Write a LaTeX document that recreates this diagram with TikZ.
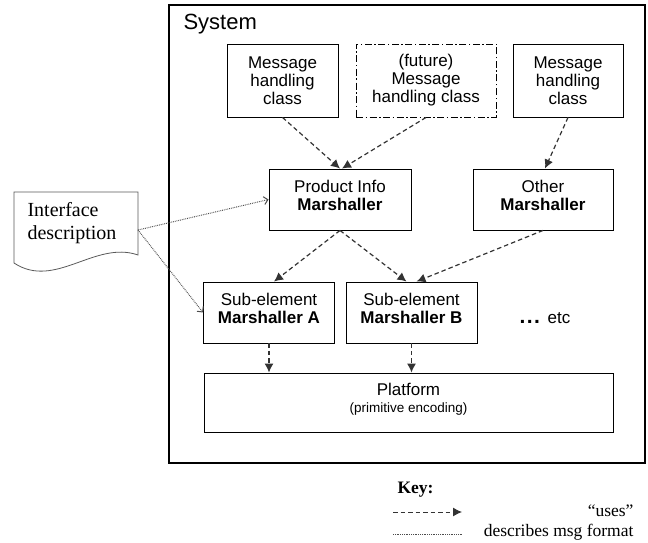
\documentclass[tikz,border=0pt]{standalone}
\usepackage{fontspec}
\setmainfont{Liberation Serif}
\setsansfont{Liberation Sans}
\usepackage{tikz}
\usetikzlibrary{arrows.meta}
\usetikzlibrary{positioning}

\tikzset{
  box/.style={draw, line width=0.9pt, align=center, inner sep=0pt,
    font=\sffamily\fontsize{17}{18}\selectfont},
  twoline/.style={text height=32.5pt, text depth=10.5pt},
  futurebox/.style={box, dash pattern=on 7pt off 2.5pt on 1.5pt off 2.5pt},
  uses/.style={draw=black!80, line width=1.2pt, dash pattern=on 4.5pt off 3pt,
    -{Latex[length=9pt,width=9pt]}},
  dotline/.style={draw=black!70, line width=1pt, dash pattern=on 0.8pt off 1pt},
  describes/.style={dotline, -{Straight Barb[length=4pt,width=8pt]}},
  keytext/.style={font=\fontsize{17.5}{20}\selectfont}
}

\begin{document}
\begin{tikzpicture}[x=1pt,y=-1pt]
    \useasboundingbox (0,0) rectangle (648,543);
    \node[draw, line width=1.8pt, minimum width=476pt, minimum height=458pt] (sys) at (407,234) {};
    \node[anchor=west, font=\sffamily\fontsize{22}{24}\selectfont] (systitle) at (180,24) {System};

    \node[box, minimum width=111pt, minimum height=73pt] (msgA) at (282.5,80.5) {Message\\handling\\class};
    \node[futurebox, minimum width=140pt, minimum height=73pt] (msgF) at (426,80.5) {(future)\\Message\\handling class};
    \node[box, minimum width=110pt, minimum height=73pt] (msgB) at (568,80.5) {Message\\handling\\class};

    \node[box, twoline, minimum width=142pt, minimum height=61pt] (pinfo) at (340,199.5) {Product Info\\\textbf{Marshaller}};
    \node[box, twoline, minimum width=140pt, minimum height=61pt] (other) at (543,199.5) {Other\\\textbf{Marshaller}};

    \node[box, twoline, minimum width=131pt, minimum height=61pt] (subA) at (269,312.5) {Sub-element\\\textbf{Marshaller A}};
    \node[box, twoline, minimum width=131pt, minimum height=61pt] (subB) at (411.5,312.5) {Sub-element\\\textbf{Marshaller B}};
    \node[anchor=west, font=\sffamily\fontsize{17}{18}\selectfont] (etc) at (516,318)
      {{\bfseries\fontsize{21}{21}\selectfont .\hspace{1.5pt}.\hspace{1.5pt}.}\,\ etc};

    \node[box, twoline, text height=31pt, text depth=11pt, minimum width=409pt, minimum height=59pt] (platform) at (408.5,402.5)
      {Platform\\[-1pt]{\fontsize{13.5}{15}\selectfont (primitive encoding)}};

    \draw[uses] (msgA.south) to ([xshift=0pt]pinfo.north);
    \draw[uses] (msgF.south) to ([xshift=2pt]pinfo.north);
    \draw[uses] (msgB.south) to ([xshift=2pt]other.north);
    \draw[uses] (pinfo.south) to ([xshift=5pt]subA.north);
    \draw[uses] (pinfo.south) to ([xshift=-5pt]subB.north);
    \draw[uses] (other.south) to ([xshift=5pt]subB.north);
    \draw[uses] (subA.south) to (subA.south |- platform.north);
    \draw[uses] (subB.south) to (subB.south |- platform.north);

    \draw[line width=0.8pt, draw=black!65] (14,192) -- (138,192) -- (138,255)
      .. controls (95,240) and (55,290) .. (14,263) -- cycle;
    \node[anchor=west, align=left, font=\fontsize{20}{23}\selectfont] (ifc) at (24,223) {Interface\\description};
    \coordinate (ifcout) at (138,230);
    \draw[describes] (ifcout) to (pinfo.west);
    \draw[describes] (ifcout) to (subA.west);

    \node[anchor=west, keytext] (key) at (394,490) {\textbf{Key:}};
    \coordinate (usesA) at (393,512);
    \coordinate (usesB) at (462,512);
    \draw[uses, line width=1pt] (usesA) to (usesB);
    \node[anchor=east, keytext] (usestext) at (637,511) {``uses''};
    \coordinate (descA) at (393,534);
    \coordinate (descB) at (462,534);
    \draw[dotline] (descA) to (descB);
    \node[anchor=east, keytext] (desctext) at (637,532) {describes msg format};
  \end{tikzpicture}
\end{document}
